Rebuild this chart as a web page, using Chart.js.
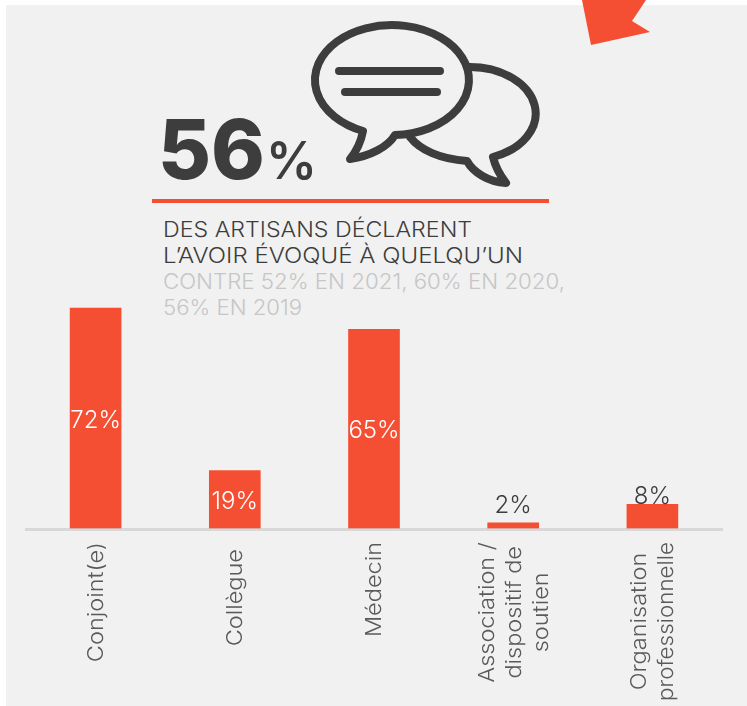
<!DOCTYPE html>
<html lang="fr">
<head>
<meta charset="utf-8">
<title>56% des artisans</title>
<script src="https://cdn.jsdelivr.net/npm/chart.js@4"></script>
<style>
  html, body { margin: 0; padding: 0; background: #fff; }
  #wrap { position: relative; width: 747px; height: 706px; overflow: hidden; }
  #panel { position: absolute; left: 6px; top: 5px; right: 0; bottom: 0; background: #f1f1f1; }
  #head, #membersChart { position: absolute; left: 0; top: 0; }
  text { font-family: Inter, sans-serif; }
</style>
</head>
<body>
<div id="wrap">
  <div id="panel"></div>
  <svg id="head" width="747" height="706">
    <polygon points="582,0 646,0 632,21 650,32 591,45" fill="#f44f32"/>
    <g fill="none" stroke="#3d3d3d" stroke-width="8" stroke-linejoin="round" stroke-linecap="round">
      <path d="M363 131 A77 55 0 1 1 395 135 C388 147 370 156 350 159 Q360 147 363 131 Z"/>
      <path d="M470 67 A66 46.5 0 0 1 493 157 Q496 170 506 183 C488 182 473 172 467 161 C440 159 420 150 410 137"/>
    </g>
    <g stroke="#3d3d3d" stroke-width="8" stroke-linecap="round">
      <line x1="339" y1="71" x2="440" y2="71"/>
      <line x1="345" y1="92" x2="437" y2="92"/>
    </g>
    <text x="158" y="179" font-size="83" font-weight="800" fill="#3d3d3d" textLength="107" lengthAdjust="spacingAndGlyphs">56</text>
    <text x="266" y="179" font-size="52" font-weight="600" fill="#3d3d3d" textLength="51" lengthAdjust="spacingAndGlyphs">%</text>
    <rect x="152" y="199" width="397" height="4" fill="#f44f32"/>
    <g font-size="21" font-weight="300">
      <text x="163" y="237" fill="#3d3d3d" textLength="309" lengthAdjust="spacingAndGlyphs">DES ARTISANS DÉCLARENT</text>
      <text x="163" y="263" fill="#3d3d3d" textLength="360" lengthAdjust="spacingAndGlyphs">L’AVOIR ÉVOQUÉ À QUELQU’UN</text>
      <text x="163" y="289" fill="#c6c6c6" textLength="402" lengthAdjust="spacingAndGlyphs">CONTRE 52% EN 2021, 60% EN 2020,</text>
      <text x="163" y="315" fill="#c6c6c6" textLength="139" lengthAdjust="spacingAndGlyphs">56% EN 2019</text>
    </g>
  </svg>
  <canvas id="membersChart" width="747" height="706"></canvas>
</div>
<script>
const categories = [
    ['Conjoint(e)'],
    ['Collègue'],
    ['Médecin'],
    ['Association /', 'dispositif de', 'soutien'],
    ['Organisation', 'professionnelle']
];
const shares = [72, 19, 65, 2, 8];

const orange = '#f44f32';
const dark = '#3d3d3d';
const labelFont = '300 21px Inter, sans-serif';
const labelStretch = 1.12;
const labelMaxLength = 159;

// rotated, centred multi-line category names and the % labels
const textPlugin = {
    id: 'textPlugin',
    afterDraw(chart) {
        const ctx = chart.ctx;
        const xAxis = chart.scales.x;
        const bars = chart.getDatasetMeta(0).data;

        ctx.save();
        ctx.font = labelFont;
        ctx.fillStyle = '#5a5a5a';
        ctx.textAlign = 'center';
        ctx.textBaseline = 'middle';
        categories.forEach((lines, i) => {
            const natural = Math.max(...lines.map(l => ctx.measureText(l).width)) * labelStretch;
            const longest = Math.min(natural, labelMaxLength);
            const mid = xAxis.getPixelForValue(i) + 1;
            // Collègue sits a bit lower than the other names
            const top = xAxis.top + (i === 1 ? 20 : 13);
            lines.forEach((line, n) => {
                ctx.save();
                ctx.translate(mid + (n - (lines.length - 1) / 2) * 27, top + longest / 2);
                ctx.rotate(-Math.PI / 2);
                ctx.scale(labelStretch, 1);
                ctx.fillText(line, 0, 0, labelMaxLength / labelStretch);
                ctx.restore();
            });
        });
        ctx.restore();

        ctx.save();
        ctx.font = '300 24px Inter, sans-serif';
        ctx.textAlign = 'center';
        shares.forEach((v, i) => {
            const bar = bars[i];
            if (v > 10) {
                ctx.fillStyle = '#fff';
                ctx.textBaseline = 'middle';
                ctx.fillText(v + '%', bar.x, (bar.y + bar.base) / 2 + 2);
            } else {
                ctx.fillStyle = dark;
                ctx.textBaseline = 'alphabetic';
                ctx.fillText(v + '%', bar.x, v < 5 ? bar.y - 10 : bar.y);
            }
        });
        ctx.restore();
    }
};

new Chart(document.getElementById('membersChart').getContext('2d'), {
    type: 'bar',
    data: {
        labels: categories,
        datasets: [{
            data: shares,
            backgroundColor: orange,
            barThickness: 51
        }]
    },
    options: {
        responsive: false,
        animation: false,
        layout: { padding: { left: 26, right: 25, top: 222, bottom: 0 } },
        plugins: { legend: { display: false }, tooltip: { enabled: false } },
        scales: {
            x: {
                afterFit(scale) { scale.height = 177; },
                grid: { display: false },
                border: { color: 'rgba(205,205,205,0.7)', width: 3, z: 1 },
                ticks: { display: false }
            },
            y: { display: false, min: 0, max: 100 }
        }
    },
    plugins: [textPlugin]
});
</script>
</body>
</html>
